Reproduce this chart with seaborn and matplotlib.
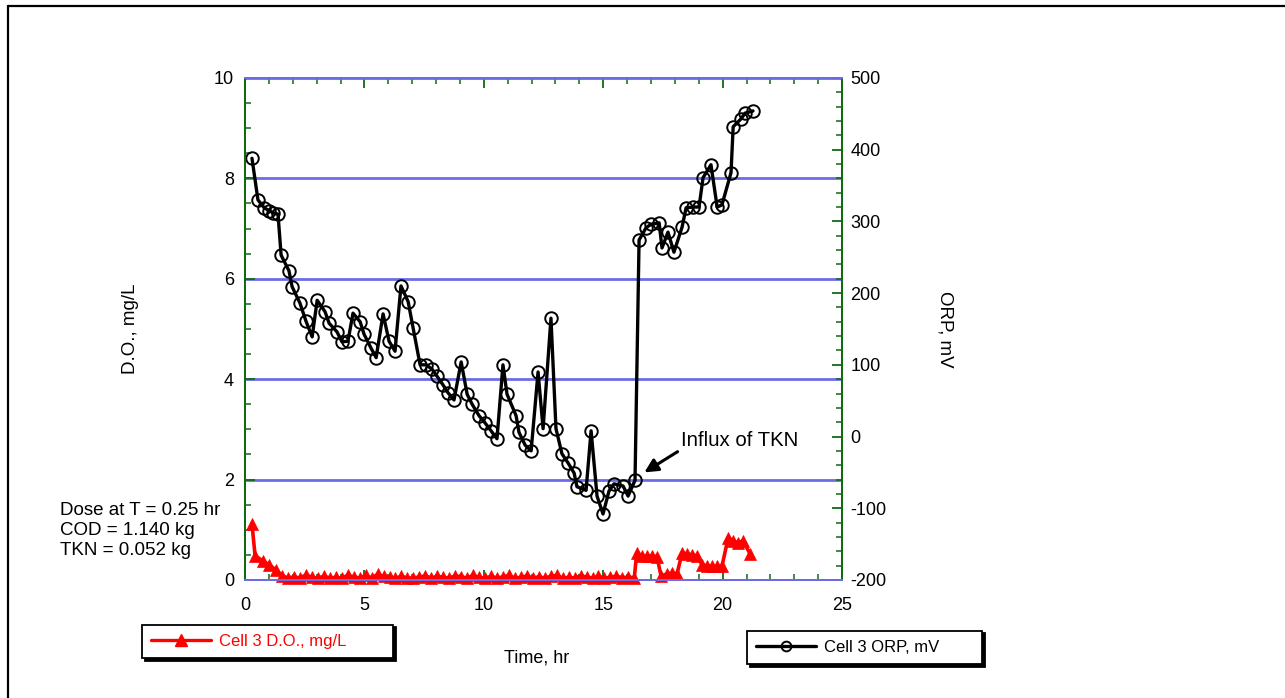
import matplotlib
matplotlib.use("Agg")
import matplotlib.pyplot as plt
from matplotlib.lines import Line2D
from matplotlib.ticker import MultipleLocator
import seaborn as sns
import pandas as pd

# ---------------- data ----------------
orp_time = [0.29, 0.54, 0.80, 1.01, 1.17, 1.38, 1.51, 1.84, 1.97, 2.30,
            2.55, 2.81, 3.02, 3.35, 3.52, 3.85, 4.06, 4.31, 4.52, 4.82,
            4.98, 5.28, 5.49, 5.78, 6.03, 6.28, 6.53, 6.83, 7.04, 7.33,
            7.58, 7.83, 8.04, 8.29, 8.50, 8.75, 9.05, 9.30, 9.51, 9.80,
            10.05, 10.30, 10.55, 10.80, 10.97, 11.35, 11.47, 11.73, 11.98, 12.27,
            12.48, 12.81, 13.02, 13.27, 13.53, 13.78, 13.90, 14.28, 14.49, 14.74,
            14.99, 15.24, 15.45, 15.83, 16.04, 16.33, 16.50, 16.79, 17.00, 17.34,
            17.46, 17.71, 17.96, 18.30, 18.47, 18.76, 19.01, 19.18, 19.51, 19.77,
            19.97, 20.35, 20.44, 20.77, 20.94, 21.27]
orp_mv = [388, 330, 319, 315, 312, 310, 253, 231, 209, 186,
          161, 139, 190, 174, 158, 146, 132, 133, 172, 160,
          143, 123, 110, 171, 133, 119, 210, 188, 151, 100,
          100, 94, 84, 72, 61, 51, 104, 59, 45, 29,
          19, 8, -3, 100, 59, 29, 6, -12, -20, 90,
          11, 165, 11, -24, -37, -51, -70, -75, 8, -83,
          -108, -76, -66, -69, -83, -61, 274, 291, 296, 298,
          263, 285, 257, 292, 319, 320, 320, 361, 379, 320,
          323, 368, 432, 443, 451, 454]

do_time = [0.29, 0.42, 0.75, 1.00, 1.30,
           1.55, 1.80, 2.05, 2.30, 2.55, 2.80, 3.05, 3.30, 3.55, 3.80,
           4.05, 4.30, 4.55, 4.80, 5.05, 5.30, 5.55, 5.80, 6.05, 6.30,
           6.55, 6.80, 7.05, 7.30, 7.55, 7.80, 8.05, 8.30, 8.55, 8.80,
           9.05, 9.30, 9.55, 9.80, 10.05, 10.30, 10.55, 10.80, 11.05, 11.30,
           11.55, 11.80, 12.05, 12.30, 12.55, 12.80, 13.05, 13.30, 13.55, 13.80,
           14.05, 14.30, 14.55, 14.80, 15.05, 15.30, 15.55, 15.80, 16.05, 16.30,
           16.40, 16.62, 16.83, 17.04, 17.25, 17.42, 17.67, 17.88, 18.09, 18.30,
           18.51, 18.72, 18.93, 19.14, 19.35, 19.56, 19.77, 19.97, 20.23, 20.44,
           20.64, 20.85, 21.15]
do_mgl = [1.12, 0.48, 0.38, 0.30, 0.20,
          0.08, 0.04, 0.06, 0.04, 0.10, 0.05, 0.04, 0.07, 0.04, 0.05,
          0.04, 0.09, 0.06, 0.04, 0.09, 0.04, 0.11, 0.07, 0.06, 0.04,
          0.07, 0.04, 0.04, 0.06, 0.08, 0.04, 0.07, 0.05, 0.04, 0.08,
          0.06, 0.04, 0.09, 0.05, 0.04, 0.07, 0.04, 0.06, 0.09, 0.04,
          0.05, 0.08, 0.04, 0.06, 0.04, 0.07, 0.09, 0.04, 0.05, 0.04,
          0.08, 0.06, 0.04, 0.07, 0.04, 0.05, 0.08, 0.04, 0.06, 0.04,
          0.54, 0.48, 0.47, 0.48, 0.46, 0.08, 0.12, 0.14, 0.12, 0.54,
          0.52, 0.50, 0.48, 0.30, 0.28, 0.27, 0.27, 0.27, 0.84, 0.78,
          0.74, 0.78, 0.52]

do_label = "Cell 3 D.O., mg/L"
orp_label = "Cell 3 ORP, mV"
x_label = "Time, hr"
y_label = "D.O., mg/L"
y2_label = "ORP, mV"
note_text = "Dose at T = 0.25 hr\nCOD = 1.140 kg\nTKN = 0.052 kg"
annot_text = "Influx of TKN"

# ---------------- style ----------------
sns.set_style("ticks")
plt.rcParams["font.family"] = ["Liberation Sans", "DejaVu Sans"]
plt.rcParams["axes.unicode_minus"] = False
plt.rcParams["text.color"] = "black"
plt.rcParams["axes.labelcolor"] = "black"

GREEN = "#0f6b12"
BLUE = "#6c6ce6"

df_orp = pd.DataFrame({"t": orp_time, "v": orp_mv})
df_do = pd.DataFrame({"t": do_time, "v": do_mgl})

fig = plt.figure(figsize=(12.85, 6.98), dpi=100)
ax = fig.add_axes([0.1907, 0.1691, 0.4646, 0.7192])
ax2 = ax.twinx()

sns.lineplot(data=df_do, x="t", y="v", ax=ax, color="#ff0000", lw=2.6,
             marker="^", markersize=9, markerfacecolor="#ff0000",
             markeredgecolor="#ff0000", markeredgewidth=0.5,
             sort=False, estimator=None, legend=False, clip_on=False)
sns.lineplot(data=df_orp, x="t", y="v", ax=ax2, color="black", lw=2.4,
             marker="o", markersize=9, markerfacecolor="none",
             markeredgecolor="black", markeredgewidth=1.4,
             sort=False, estimator=None, legend=False)

ax.set_xlim(0, 25)
ax.set_ylim(0, 10)
ax2.set_ylim(-200, 500)

ax.xaxis.set_major_locator(MultipleLocator(5))
ax.xaxis.set_minor_locator(MultipleLocator(1))
ax.yaxis.set_major_locator(MultipleLocator(2))
ax.yaxis.set_minor_locator(MultipleLocator(0.5))
ax2.yaxis.set_major_locator(MultipleLocator(100))
ax2.yaxis.set_minor_locator(MultipleLocator(20))

ax.grid(axis="y", which="major", color=BLUE, lw=2.0)
ax.set_axisbelow(True)

for a in (ax, ax2):
    a.set_facecolor("none")
    for s in ("left", "right"):
        a.spines[s].set_color(GREEN)
        a.spines[s].set_linewidth(1.4)
    for s in ("top", "bottom"):
        a.spines[s].set_color(BLUE)
        a.spines[s].set_linewidth(1.4)
    a.spines[:].set_visible(True)

ax.tick_params(axis="x", which="both", direction="in", top=True, bottom=True,
               color=GREEN, labelcolor="black", labelsize=13, pad=12)
ax.tick_params(axis="x", which="major", length=7, width=1.3)
ax.tick_params(axis="x", which="minor", length=4, width=1.1)
ax.tick_params(axis="y", which="both", direction="in", left=True, right=False,
               color=GREEN, labelcolor="black", labelsize=13, pad=8)
ax.tick_params(axis="y", which="major", length=7, width=1.3)
ax.tick_params(axis="y", which="minor", length=4, width=1.1)
ax2.tick_params(axis="y", which="both", direction="in", right=True, left=False,
                color=GREEN, labelcolor="black", labelsize=13, pad=6)
ax2.tick_params(axis="y", which="major", length=7, width=1.3)
ax2.tick_params(axis="y", which="minor", length=4, width=1.1)

ax.set_xlabel(x_label, fontsize=13)
ax.set_ylabel(y_label, fontsize=13.5, va="center")
ax2.set_ylabel(y2_label, fontsize=13.5, rotation=270, va="center")
ax.xaxis.set_label_coords(0.489, -0.139)
ax.yaxis.set_label_coords(-0.1926, 0.5)
ax2.yaxis.set_label_coords(1.172, 0.5)

ax2.annotate(annot_text, xy=(16.72, -50), xytext=(18.25, -5),
             fontsize=14.7, ha="left", va="center",
             arrowprops=dict(arrowstyle="-|>", color="black", lw=2.2,
                             mutation_scale=20, shrinkA=0, shrinkB=0,
                             relpos=(0.0, 0.0)))

fig.text(60 / 1285, 1 - 502 / 698, note_text, fontsize=13.5,
         ha="left", va="top", linespacing=1.22)

# ---------------- legends ----------------
h_do = Line2D([], [], color="#ff0000", lw=2.4, marker="^", markersize=8,
              markerfacecolor="#ff0000", markeredgecolor="#ff0000")
h_orp = Line2D([], [], color="black", lw=2.4, marker="o", markersize=7,
               markerfacecolor="none", markeredgecolor="black", markeredgewidth=1.4)

shadow = {"color": "black", "alpha": 1.0}
leg1 = fig.legend(handles=[h_do], labels=[do_label], loc="lower left",
                  bbox_to_anchor=(142 / 1285, 1 - 658 / 698, 251 / 1285, 0.05),
                  mode="expand", borderaxespad=0, fontsize=12, labelcolor="#ff0000",
                  frameon=True, fancybox=False, edgecolor="black", framealpha=1,
                  shadow=shadow, handlelength=3.6, handletextpad=0.45,
                  borderpad=0.55)
leg1.get_frame().set_linewidth(1.3)
leg2 = fig.legend(handles=[h_orp], labels=[orp_label], loc="lower left",
                  bbox_to_anchor=(747 / 1285, 1 - 664 / 698, 235 / 1285, 0.05),
                  mode="expand", borderaxespad=0, fontsize=12, labelcolor="black",
                  frameon=True, fancybox=False, edgecolor="black", framealpha=1,
                  shadow=shadow, handlelength=3.6, handletextpad=0.45,
                  borderpad=0.55)
leg2.get_frame().set_linewidth(1.3)

# page frame
fig.add_artist(Line2D([8 / 1285, 1.0], [1 - 5.5 / 698, 1 - 5.5 / 698],
                      transform=fig.transFigure, color="black", lw=1.6))
fig.add_artist(Line2D([8 / 1285, 8 / 1285], [0.0, 1 - 5.5 / 698],
                      transform=fig.transFigure, color="black", lw=1.6))

fig.savefig("out.png", dpi=100, facecolor="white")
